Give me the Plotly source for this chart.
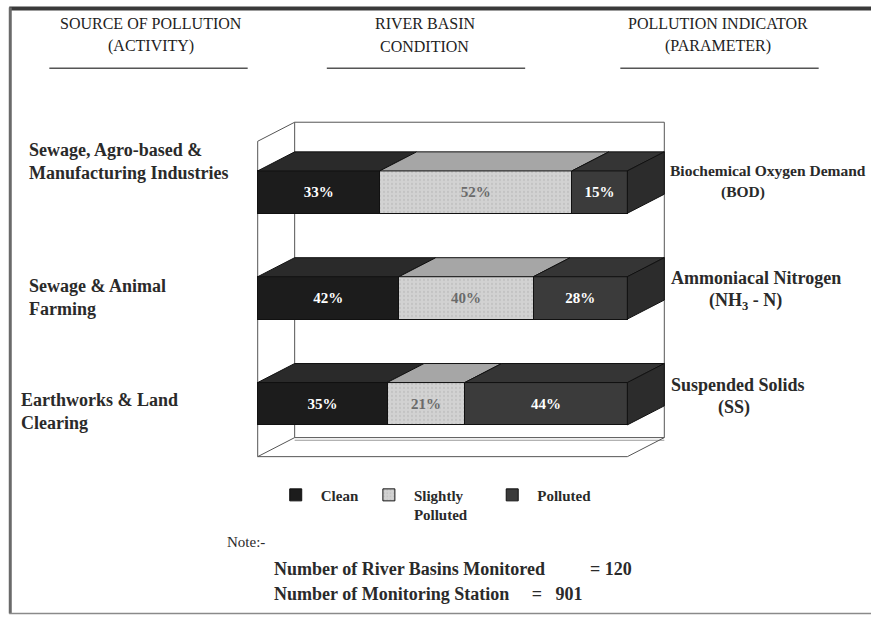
import plotly.graph_objects as go

# ---------------- data ----------------
sources = ["Sewage, Agro-based &<br>Manufacturing Industries",
           "Sewage & Animal<br>Farming",
           "Earthworks & Land<br>Clearing"]
indicators_l1 = ["Biochemical Oxygen Demand", "Ammoniacal Nitrogen", "Suspended Solids"]
indicators_l2 = ["(BOD)", "(NH<sub>3</sub> - N)", "(SS)"]
series_names = ["Clean", "Slightly<br>Polluted", "Polluted"]
clean = [33, 42, 35]
slightly = [52, 40, 21]
polluted = [15, 28, 44]
basins_monitored = 120
stations = 901

# ---------------- geometry / style ----------------
W, H = 871, 617
X0PX, XU = 258, 3.69       # pixel of x=0, pixels per unit
Y0PX, YU = 404, 106        # pixel of y=0, pixels per unit
XR = [-1, 111]
YR = [-0.56, 2.7]
L = X0PX + XR[0] * XU
PW = (XR[1] - XR[0]) * XU
R = W - L - PW
T = Y0PX - YR[1] * YU
PH = (YR[1] - YR[0]) * YU
B = H - T - PH

DX, DY = 10, 0.18          # 3D depth offset (data units)
BW = 0.4                   # bar thickness
FLOOR, CEIL = -0.5, 2.66
ypos = [2, 1, 0]

front_cols = ["#1c1c1c", "#d2d2d2", "#3b3b3b"]
top_cols = ["#2a2a2a", "#a6a6a6", "#353535"]
side_col = "#2c2c2c"
text_cols = ["white", "#6a6a6a", "white"]
FONT = "Liberation Serif"
INK = "#2a2a2a"
NB = "\u00a0"
legend_pad = [0, 4, 0]     # trailing spaces so legend entries sit where the reference has them

def PX(x):
    return (x - L) / PW

def PY(y):
    return (H - B - y) / PH

fig = go.Figure()
series = [clean, slightly, polluted]
for k, (name, vals) in enumerate(zip(series_names, series)):
    marker = dict(color=front_cols[k], line=dict(color="#111111", width=1))
    if k == 1:
        marker["pattern"] = dict(shape=".", fgcolor="#b4b4b4", bgcolor=front_cols[k],
                                 size=4, solidity=0.25)
    fig.add_trace(go.Bar(
        y=ypos, x=vals, orientation="h", name=name + NB * legend_pad[k], width=BW,
        marker=marker,
        text=[f"{v}%" for v in vals], textposition="inside",
        insidetextanchor="middle", textangle=0,
        textfont=dict(family=FONT, size=15, color=text_cols[k], weight="bold"),
        hoverinfo="skip",
    ))

shapes = []
# 3D top faces and right side faces, derived from the normalised data
for i, y in enumerate(ypos):
    total = sum(s[i] for s in series)
    cum = 0.0
    yt = y + BW / 2
    yb = y - BW / 2
    for k, s in enumerate(series):
        w = s[i] / total * 100
        x0, x1 = cum, cum + w
        shapes.append(dict(
            type="path", xref="x", yref="y", layer="above",
            path=f"M {x0},{yt} L {x1},{yt} L {x1+DX},{yt+DY} L {x0+DX},{yt+DY} Z",
            fillcolor=top_cols[k], line=dict(color="#111111", width=1)))
        cum = x1
    shapes.append(dict(
        type="path", xref="x", yref="y", layer="above",
        path=f"M {cum},{yb} L {cum},{yt} L {cum+DX},{yt+DY} L {cum+DX},{yb+DY} Z",
        fillcolor=side_col, line=dict(color="#111111", width=1)))

# 3D frame
frame = "#555555"
def seg(x0, y0, x1, y1, width=1, color=frame):
    return dict(type="line", xref="x", yref="y", layer="below",
                x0=x0, y0=y0, x1=x1, y1=y1, line=dict(color=color, width=width))

shapes += [
    seg(DX, FLOOR + DY, DX, CEIL),
    seg(DX, CEIL, 100 + DX, CEIL),
    seg(100 + DX, CEIL, 100 + DX, FLOOR + DY),
    seg(DX, FLOOR + DY, 100 + DX, FLOOR + DY),
    seg(DX, FLOOR + DY - 0.025, 100 + DX, FLOOR + DY - 0.025, 1, "#999999"),
    seg(0, FLOOR, 0, CEIL - DY),
    seg(0, CEIL - DY, DX, CEIL),
    seg(0, FLOOR, DX, FLOOR + DY),
    seg(0, FLOOR, 100, FLOOR),
    seg(100, FLOOR, 100 + DX, FLOOR + DY),
]

# page border & header underlines (paper coords)
def pline(x0, y0, x1, y1, color, width):
    return dict(type="line", xref="paper", yref="paper",
                x0=PX(x0), y0=PY(y0), x1=PX(x1), y1=PY(y1),
                line=dict(color=color, width=width))

shapes += [
    pline(10, 8, 871, 8, "#3a3a3a", 4),
    pline(11, 7, 11, 614, "#6a6a6a", 3),
    pline(10, 614, 871, 614, "#8a8a8a", 1.5),
    pline(50, 68, 248, 68, "#555555", 1.5),
    pline(327, 68, 525, 68, "#555555", 1.5),
    pline(620, 68, 818, 68, "#555555", 1.5),
]

ann = []
def text(s, x, y, size, bold=False, xanchor="left", color=INK):
    ann.append(dict(text=s, x=PX(x), y=PY(y), xref="paper", yref="paper",
                    xanchor=xanchor, yanchor="middle", showarrow=False, align="left",
                    font=dict(family=FONT, size=size, color=color,
                              weight="bold" if bold else "normal")))

# headers
text("SOURCE OF POLLUTION", 151, 23, 16, xanchor="center", color="#222222")
text("(ACTIVITY)", 151, 46, 16, xanchor="center", color="#222222")
text("RIVER BASIN", 425, 23, 16, xanchor="center", color="#222222")
text("CONDITION", 425, 46, 16, xanchor="center", color="#222222")
text("POLLUTION INDICATOR", 718, 23, 16, xanchor="center", color="#222222")
text("(PARAMETER)", 718, 46, 16, xanchor="center", color="#222222")

# left labels
text(sources[0], 28, 161, 18, bold=True)
text(sources[1], 28, 298, 18, bold=True)
text(sources[2], 20, 412, 18, bold=True)

# right labels
text(indicators_l1[0], 668, 170, 15.5, bold=True)
text(indicators_l2[0], 742, 192, 15.5, bold=True, xanchor="center")
text(indicators_l1[1], 669, 278, 18, bold=True)
text(indicators_l2[1], 745, 302, 18, bold=True, xanchor="center")
text(indicators_l1[2], 669, 385, 18, bold=True)
text(indicators_l2[2], 733, 408, 18, bold=True, xanchor="center")

# note
text("Note:-", 225, 542, 15)
text(f"Number of River Basins Monitored{NB * 10}= {basins_monitored}",
     272, 570, 18, bold=True)
text(f"Number of Monitoring Station{NB * 5}={NB * 3}{stations}",
     272, 595, 18, bold=True)

fig.update_layout(
    width=W, height=H,
    margin=dict(l=L, r=R, t=T, b=B, autoexpand=False),
    paper_bgcolor="white", plot_bgcolor="white",
    barmode="stack", barnorm="percent",
    xaxis=dict(range=XR, visible=False, fixedrange=True),
    yaxis=dict(range=YR, visible=False, fixedrange=True),
    showlegend=True,
    legend=dict(orientation="h", x=PX(271), y=PY(479), xanchor="left", yanchor="top",
                valign="top", traceorder="normal", itemwidth=40,
                font=dict(family=FONT, size=15, color=INK, weight="bold"),
                bgcolor="rgba(0,0,0,0)"),
    shapes=shapes, annotations=ann,
    uniformtext=dict(minsize=10, mode="show"),
)

fig.write_html("out.html")
